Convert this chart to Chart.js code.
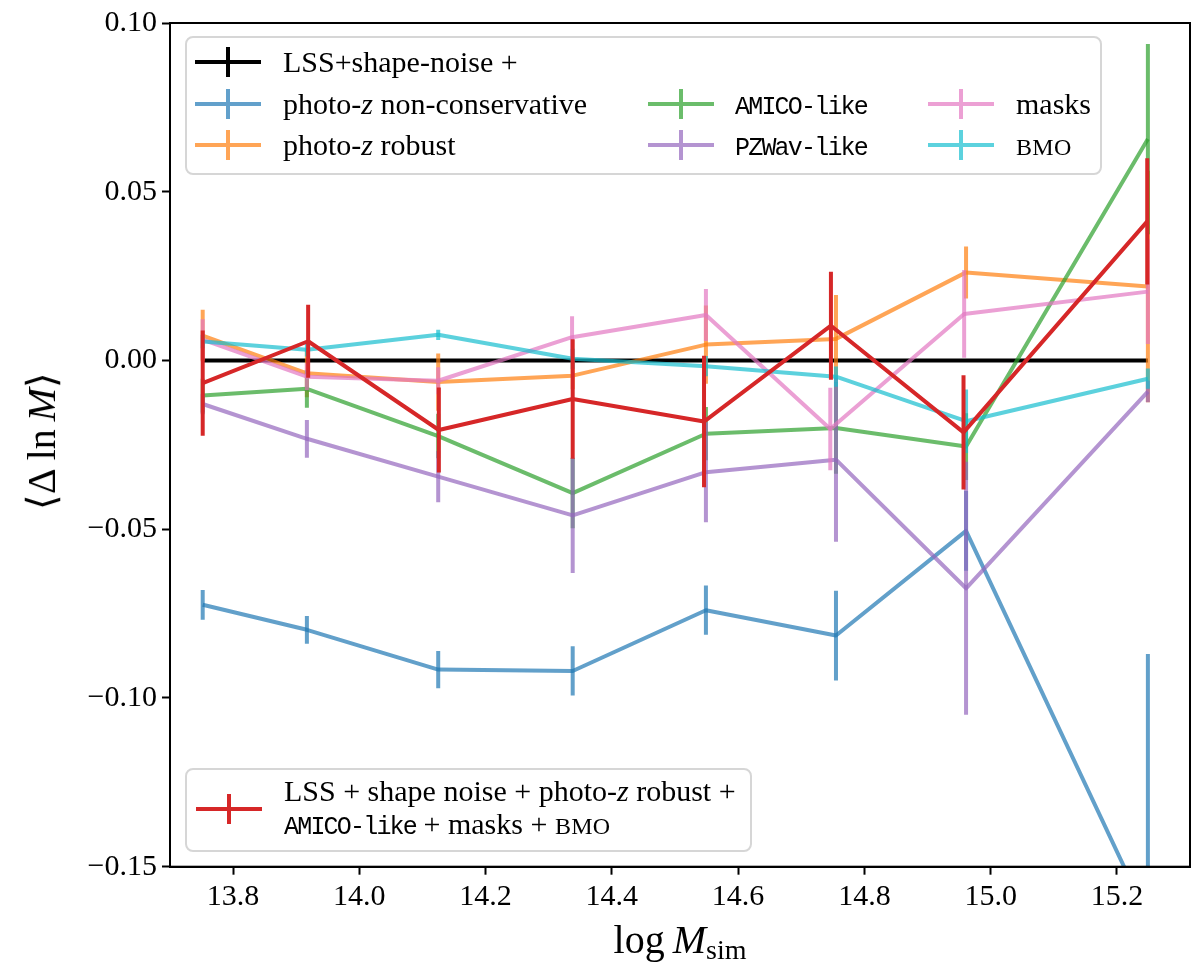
<!DOCTYPE html>
<html>
<head>
<meta charset="utf-8">
<script src="https://cdn.jsdelivr.net/npm/chart.js@4.4.1/dist/chart.umd.min.js"></script>
<style>
  html, body { margin:0; padding:0; background:#fff; }
  #wrap { position:relative; width:1200px; height:976px; overflow:hidden; }
  #c { position:absolute; left:0; top:0; }
  .serif { font-family:'Liberation Serif','Times New Roman',serif; color:#000; }
  .lbl { position:absolute; white-space:nowrap; font-family:'Liberation Serif',serif; font-size:30px; line-height:1; transform:translateY(-50%); color:#000; }
  .mono { font-family:'Liberation Mono','DejaVu Sans Mono',monospace; font-size:25px; letter-spacing:-1.8px; }
  .sc { font-size:24px; letter-spacing:0.3px; }
  .box { position:absolute; box-sizing:border-box; border:2px solid #d6d6d6; border-radius:8px; background:rgba(255,255,255,0.8); }
  .hd { position:absolute; width:66px; height:30px; }
  .hd .h { position:absolute; left:0; top:13px; width:66px; height:4px; }
  .hd .v { position:absolute; left:31px; top:0; width:4px; height:30px; }
</style>
</head>
<body>
<div id="wrap">
<canvas id="c" width="1200" height="976"></canvas>
</div>
<script>
// ---- data ----
const xTicks = [13.8, 14.0, 14.2, 14.4, 14.6, 14.8, 15.0, 15.2];
const yTicks = [-0.15, -0.10, -0.05, 0.00, 0.05, 0.10];

const logM      = [13.752, 13.917, 14.125, 14.338, 14.549, 14.755, 14.961, 15.249];
const logMRed   = [13.752, 13.919, 14.126, 14.338, 14.546, 14.747, 14.957, 15.248];
const logMPink  = [13.752, 13.917, 14.125, 14.337, 14.549, 14.746, 14.958, 15.249];

const baseVals   = [0, 0, 0, 0, 0, 0, 0, 0];
const baseErr    = [0, 0, 0, 0, 0, 0, 0, 0];

const photozNCVals = [-0.0724, -0.0798, -0.0916, -0.0920, -0.0740, -0.0815, -0.0505, -0.165];
const photozNCErr  = [0.0044, 0.0041, 0.0055, 0.0073, 0.0073, 0.0133, 0.0118, 0.078];

const photozRobVals = [0.0074, -0.0038, -0.0064, -0.0045, 0.0047, 0.0064, 0.0261, 0.0219];
const photozRobErr  = [0.0076, 0.0071, 0.0085, 0.0040, 0.0116, 0.0130, 0.0077, 0.0343];

const amicoVals = [-0.0104, -0.0084, -0.0224, -0.0393, -0.0217, -0.0200, -0.0255, 0.0656];
const amicoErr  = [0.0050, 0.0056, 0.0066, 0.0104, 0.0079, 0.0136, 0.0099, 0.0282];

const pzwavVals = [-0.0129, -0.0232, -0.0344, -0.0459, -0.0331, -0.0294, -0.0675, -0.0092];
const pzwavErr  = [0.0030, 0.0056, 0.0076, 0.0171, 0.0148, 0.0243, 0.0375, 0.0032];

const masksVals = [0.0062, -0.0048, -0.0060, 0.0069, 0.0135, -0.0203, 0.0138, 0.0204];
const masksErr  = [0.0060, 0.0040, 0.0040, 0.0062, 0.0077, 0.0122, 0.0130, 0.0155];

const bmoVals = [0.0056, 0.0032, 0.0076, 0.0005, -0.0017, -0.0048, -0.0180, -0.0054];
const bmoErr  = [0.0020, 0.0020, 0.0015, 0.0030, 0.0030, 0.0030, 0.0094, 0.0030];

const combVals = [-0.0067, 0.0057, -0.0206, -0.0114, -0.0181, 0.0103, -0.0213, 0.0412];
const combErr  = [0.0156, 0.0108, 0.0126, 0.0177, 0.0195, 0.0160, 0.0169, 0.0187];

// ---- build ----
function pts(xs, ys) { return xs.map((x, i) => ({ x: x, y: ys[i] })); }
function ds(label, xs, ys, errs, color) {
  return { label, data: pts(xs, ys), errors: errs, borderColor: color, backgroundColor: color,
           borderWidth: 4, pointRadius: 0, tension: 0, borderJoinStyle: 'round', clip: 0, fill: false };
}
const A = 0.7;
const datasets = [
  ds('combined', logMRed, combVals, combErr, 'rgb(214,39,40)'),
  ds('BMO', logM, bmoVals, bmoErr, `rgba(23,190,207,${A})`),
  ds('masks', logMPink, masksVals, masksErr, `rgba(227,119,194,${A})`),
  ds('PZWav-like', logM, pzwavVals, pzwavErr, `rgba(148,103,189,${A})`),
  ds('AMICO-like', logM, amicoVals, amicoErr, `rgba(44,160,44,${A})`),
  ds('photo-z robust', logM, photozRobVals, photozRobErr, `rgba(255,127,14,${A})`),
  ds('photo-z non-conservative', logM, photozNCVals, photozNCErr, `rgba(31,119,180,${A})`),
  ds('LSS+shape-noise +', logM, baseVals, baseErr, '#000')
];

const errorBars = {
  id: 'errorBars',
  afterDatasetDraw(chart, args) {
    const d = chart.data.datasets[args.index];
    const xs = chart.scales.x, ys = chart.scales.y, a = chart.chartArea, ctx = chart.ctx;
    ctx.save();
    ctx.beginPath(); ctx.rect(a.left, a.top, a.right - a.left, a.bottom - a.top); ctx.clip();
    ctx.strokeStyle = d.borderColor; ctx.lineWidth = 4; ctx.lineCap = 'butt';
    d.data.forEach((p, i) => {
      const e = d.errors[i];
      if (!e) return;
      const xp = xs.getPixelForValue(p.x);
      ctx.beginPath();
      ctx.moveTo(xp, ys.getPixelForValue(p.y - e));
      ctx.lineTo(xp, ys.getPixelForValue(p.y + e));
      ctx.stroke();
    });
    ctx.restore();
  }
};
const frame = {
  id: 'frame',
  afterDraw(chart) {
    const a = chart.chartArea, ctx = chart.ctx;
    ctx.save(); ctx.strokeStyle = '#000'; ctx.lineWidth = 2;
    ctx.strokeRect(a.left, a.top, a.right - a.left, a.bottom - a.top);
    ctx.restore();
  }
};

const tickFont = { family: 'Liberation Serif', size: 30 };
new Chart(document.getElementById('c'), {
  type: 'line',
  data: { datasets },
  plugins: [errorBars, frame],
  options: {
    responsive: false, animation: false, devicePixelRatio: 1,
    layout: { padding: { top: 22, right: 10, left: 0, bottom: 0 } },
    plugins: { legend: { display: false }, tooltip: { enabled: false } },
    scales: {
      x: {
        type: 'linear', min: 13.7002, max: 15.3157,
        afterBuildTicks: s => { s.ticks = xTicks.map(v => ({ value: v })); },
        afterFit: s => { s.height = 109.3; },
        ticks: { font: tickFont, color: '#000', padding: 4, maxRotation: 0, autoSkip: false,
                 callback: v => v.toFixed(1) },
        grid: { drawOnChartArea: false, tickLength: 8, tickWidth: 2, tickColor: '#000' },
        border: { color: '#000', width: 2 }
      },
      y: {
        type: 'linear', min: -0.15, max: 0.10,
        afterBuildTicks: s => { s.ticks = yTicks.map(v => ({ value: v })); },
        afterFit: s => { s.width = 170; },
        ticks: { font: tickFont, color: '#000', padding: 5,
                 callback: v => (v < -1e-9 ? '\u2212' : '') + Math.abs(v).toFixed(2) },
        grid: { drawOnChartArea: false, tickLength: 8, tickWidth: 2, tickColor: '#000' },
        border: { color: '#000', width: 2 }
      }
    }
  }
});

// ---- overlays (legends, axis titles) ----
const wrap = document.getElementById('wrap');
function add(html) { wrap.insertAdjacentHTML('beforeend', html); }
function handle(x, cy, color, op) {
  add(`<div class="hd" style="left:${x}px;top:${cy - 15}px;opacity:${op}"><div class="h" style="background:${color}"></div><div class="v" style="background:${color}"></div></div>`);
}
function label(x, cy, html) { add(`<div class="lbl" style="left:${x}px;top:${cy}px">${html}</div>`); }

add(`<div class="box" style="left:185px;top:36px;width:917px;height:139px"></div>`);
const rows = [61.7, 103.5, 145.3];
handle(195, rows[0], '#000', 1);           label(283, rows[0], 'LSS+shape-noise +');
handle(195, rows[1], 'rgb(31,119,180)', A); label(283, rows[1], 'photo-<i>z</i> non-conservative');
handle(195, rows[2], 'rgb(255,127,14)', A); label(283, rows[2], 'photo-<i>z</i> robust');
handle(648, rows[1], 'rgb(44,160,44)', A);  label(735, rows[1], '<span class="mono">AMICO-like</span>');
handle(648, rows[2], 'rgb(148,103,189)', A); label(735, rows[2], '<span class="mono">PZWav-like</span>');
handle(928, rows[1], 'rgb(227,119,194)', A); label(1016, rows[1], 'masks');
handle(928, rows[2], 'rgb(23,190,207)', A);  label(1016, rows[2], '<span class="sc">BMO</span>');

add(`<div class="box" style="left:185px;top:768px;width:567px;height:84px"></div>`);
handle(196, 809.3, 'rgb(214,39,40)', 1);
label(284, 791, 'LSS + shape noise + photo-<i>z</i> robust +');
label(284, 824, '<span class="mono">AMICO-like</span> + masks + <span class="sc">BMO</span>');

add(`<div class="serif" style="position:absolute;left:42px;top:441px;transform:translate(-50%,-50%) rotate(-90deg);white-space:nowrap;font-size:40px;line-height:1">\u27E8\u0394&#8201;ln&#8201;<i>M</i>\u27E9</div>`);
add(`<div class="serif" style="position:absolute;left:680px;top:942px;transform:translate(-50%,-50%);white-space:nowrap;font-size:40px;line-height:1">log&#8201;<i>M</i><sub style="font-size:28px;vertical-align:-6px">sim</sub></div>`);
</script>
</body>
</html>
